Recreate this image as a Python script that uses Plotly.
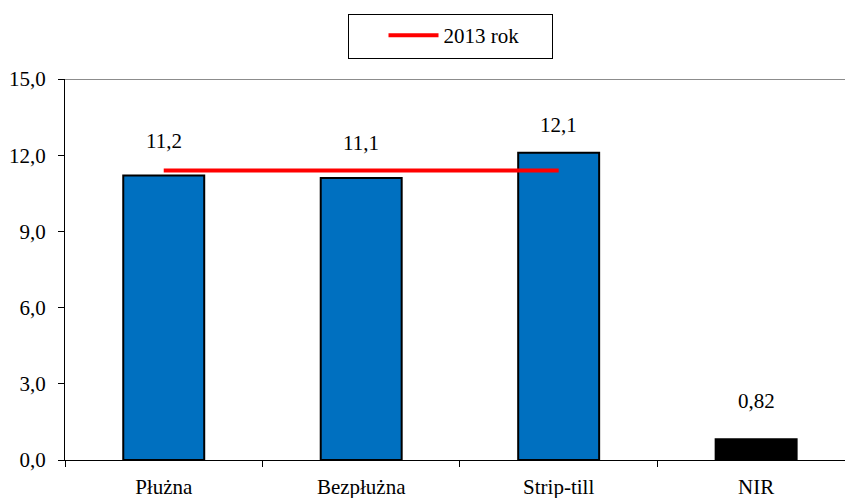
import plotly.graph_objects as go

categories = ["Płużna", "Bezpłużna", "Strip-till", "NIR"]
values = [11.2, 11.1, 12.1, 0.82]
value_labels = ["11,2", "11,1", "12,1", "0,82"]
bar_colors = ["#0070C0", "#0070C0", "#0070C0", "#000000"]

line_categories = ["Płużna", "Bezpłużna", "Strip-till"]
line_values = [11.4, 11.4, 11.4]
line_name = "2013 rok"

y_tickvals = [0, 3, 6, 9, 12, 15]
y_ticktext = ["0,0", "3,0", "6,0", "9,0", "12,0", "15,0"]

label_shifts = [21, 21, 14, 24]

FONT = "Liberation Serif, Times New Roman, serif"
FS = 21

fig = go.Figure()
fig.add_trace(go.Bar(
    x=categories, y=values,
    marker=dict(color=bar_colors, line=dict(color="black", width=2)),
    width=0.41, showlegend=False, hoverinfo="skip",
))
fig.add_trace(go.Scatter(
    x=line_categories, y=line_values, mode="lines", name=line_name,
    line=dict(color="#FF0000", width=4),
))

for c, v, t, s in zip(categories, values, value_labels, label_shifts):
    fig.add_annotation(x=c, y=v, text=t, showarrow=False, yanchor="bottom",
                       yshift=s, font=dict(family=FONT, size=FS, color="black"))

fig.add_shape(type="line", xref="paper", yref="y", x0=0, x1=1, y0=15, y1=15,
              line=dict(color="#8C8C8C", width=2), layer="below")

fig.update_layout(
    width=845, height=498,
    margin=dict(l=65, r=0, t=79, b=38),
    plot_bgcolor="white", paper_bgcolor="white",
    font=dict(family=FONT, size=FS, color="black"),
    showlegend=True,
    legend=dict(orientation="h", x=0.4936, xanchor="center", y=1.1706, yanchor="top",
                bordercolor="black", borderwidth=1, bgcolor="white",
                itemwidth=50, entrywidth=103,
                title=dict(text="\u00a0" * 4, side="left"),
                font=dict(family=FONT, size=FS, color="black")),
    xaxis=dict(range=[-0.5, 3.45], showline=True, linecolor="black", linewidth=1,
               ticks="outside", tickson="boundaries", ticklen=6, tickcolor="black",
               ticklabelstandoff=8,
               showgrid=False, zeroline=False, fixedrange=True),
    yaxis=dict(range=[0, 15], tickvals=y_tickvals, ticktext=y_ticktext,
               showline=True, linecolor="black", linewidth=1,
               ticks="outside", ticklen=6, tickcolor="black",
               ticklabelstandoff=8,
               showgrid=False, zeroline=False),
)

fig.write_html("out.html")
